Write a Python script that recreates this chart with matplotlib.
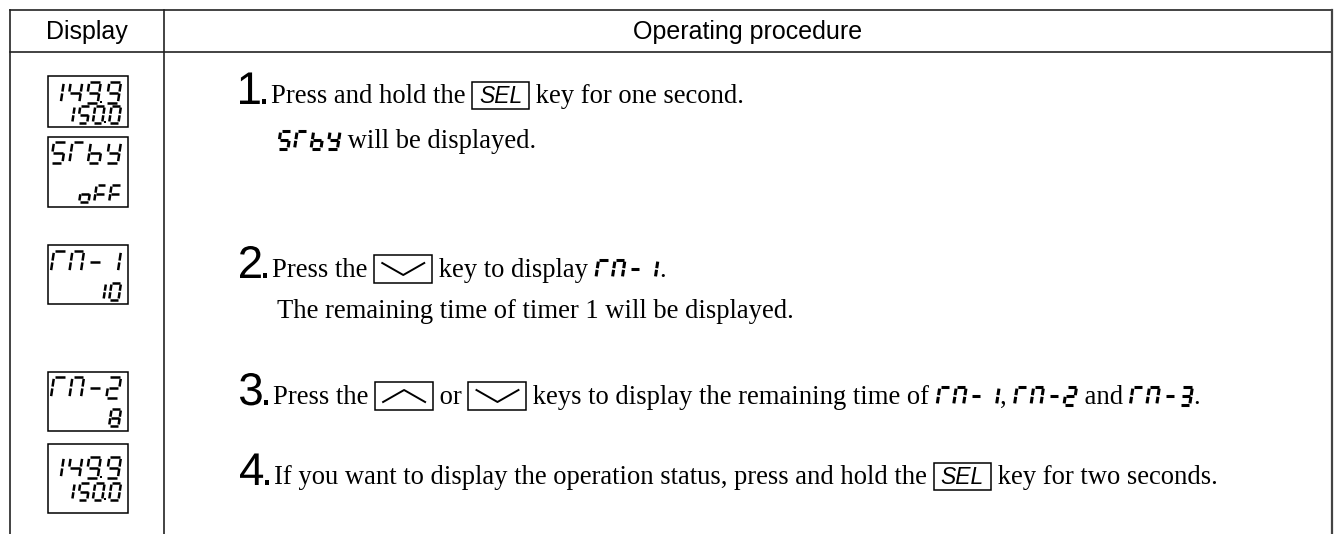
import matplotlib
matplotlib.use("Agg")
import matplotlib.pyplot as plt
from matplotlib.patches import Rectangle, PathPatch
from matplotlib.font_manager import FontProperties
from matplotlib.textpath import TextPath
from matplotlib.transforms import Affine2D

W, H, DPI = 1338, 534, 100

# ---- data ----
headers = ["Display", "Operating procedure"]
disp_top = ["149.9", "5Tby", "TM-1", "TM-2", "149.9"]
disp_bottom = ["150.0", "oFF", "10", "8", "150.0"]
step_nums = ["1", "2", "3", "4"]
step_lines = [
    [("txt", "Press and hold the "), ("key", "SEL"), ("txt", " key for one second.")],
    [("seg", "5Tby"), ("txt", " will be displayed.")],
    [("txt", "Press the "), ("key", "down"), ("txt", " key to display "), ("seg", "TM-1"), ("txt", ".")],
    [("txt", "The remaining time of timer 1 will be displayed.")],
    [("txt", "Press the "), ("key", "up"), ("txt", " or "), ("key", "down"),
     ("txt", " keys to display the remaining time of "), ("seg", "TM-1"), ("txt", ", "),
     ("seg", "TM-2"), ("txt", " and "), ("seg", "TM-3"), ("txt", ".")],
    [("txt", "If you want to display the operation status, press and hold the "), ("key", "SEL"),
     ("txt", " key for two seconds.")],
]

# seven segment patterns
SEGS = {
    "0": "abcdef", "1": "bc", "2": "abdeg", "3": "abcdg", "4": "bcfg", "5": "acdfg",
    "8": "abcdefg", "9": "abcdfg", "T": "aef", "M": "abcef", "b": "cdefg", "y": "bcdfg",
    "o": "cdeg", "F": "aefg", "-": "g",
}
ge = 0.09
SEG_XY = {
    "a": (ge, 1, 1 - ge, 1), "b": (1, 1 - ge, 1, 0.5 + ge / 2), "c": (1, 0.5 - ge / 2, 1, ge),
    "d": (ge, 0, 1 - ge, 0), "e": (0, 0.5 - ge / 2, 0, ge), "f": (0, 1 - ge, 0, 0.5 + ge / 2),
    "g": (ge, 0.5, 1 - ge, 0.5),
}

fig = plt.figure(figsize=(W / DPI, H / DPI), dpi=DPI)
ax = fig.add_axes([0, 0, 1, 1])
ax.set_xlim(0, W); ax.set_ylim(H, 0); ax.axis("off")
renderer = fig.canvas.get_renderer()

serif = FontProperties(family="Liberation Serif", size=19.2)
sans_h = FontProperties(family="Liberation Sans", size=18)
sans_num = FontProperties(family="Liberation Sans", size=33)
sans_key = FontProperties(family="Liberation Sans", size=16.5, style="italic")
PX = DPI / 72.0


def tw(s, fp):
    w1 = renderer.get_text_width_height_descent("|" + s + "|", fp, ismath=False)[0]
    w0 = renderer.get_text_width_height_descent("||", fp, ismath=False)[0]
    return w1 - w0


def glyph(x_ink, base, s, fp):
    # draw text as a path with its ink starting at x_ink; return ink right edge
    tp = TextPath((0, 0), s, prop=fp)
    ext = tp.get_extents()
    tr = Affine2D().translate(-ext.x0, 0).scale(PX, -PX).translate(x_ink, base)
    ax.add_patch(PathPatch(tr.transform_path(tp), fc="black", ec="none"))
    return x_ink + ext.width * PX


def seg_text(x, base, s, h, lw, pitch, slant=0.15, narrow1=False, draw=True):
    w = 0.55 * h
    end = x
    for i, ch in enumerate(s):
        if ch == ".":
            if draw:
                ax.plot([end + 0.5 * (pitch - w)], [base - 0.04 * h], marker="s", ms=lw * 0.9,
                        color="black", mew=0)
            x += 0.08 * h
            continue
        dx = 0.0
        if ch == "1" and narrow1 and i < len(s) - 1:
            dx = -w + 0.1 * h
        if draw:
            for sg in SEGS.get(ch, ""):
                x0, y0, x1, y1 = SEG_XY[sg]
                ax.plot([x + dx + x0 * w + slant * y0 * h, x + dx + x1 * w + slant * y1 * h],
                        [base - y0 * h, base - y1 * h], color="black", lw=lw,
                        solid_capstyle="butt")
        end = x + dx + w
        x = end + (pitch - w)
    return end + slant * h


def seg_right(xr, base, s, h, lw, pitch):
    span = seg_text(0, base, s, h, lw, pitch, narrow1=True, draw=False)
    seg_text(xr - span, base, s, h, lw, pitch, narrow1=True)


def key_box(x, base, kind):
    if kind == "SEL":
        bw, bh = 57, 27
        ax.add_patch(Rectangle((x, base - 21), bw, bh, fill=False, lw=1.1, ec="black"))
        ax.text(x + bw / 2, base - 21 + bh / 2 + 1, "SEL", fontproperties=sans_key,
                ha="center", va="center")
    else:
        bw, bh = 58, 28
        ax.add_patch(Rectangle((x, base - 22), bw, bh, fill=False, lw=1.1, ec="black"))
        cy = base - 22 + bh / 2
        d = 6 if kind == "down" else -6
        ax.plot([x + 8, x + bw / 2, x + bw - 8], [cy - d, cy + d, cy - d], color="black", lw=1.4)
    return x + bw


def layout(x, base, runs):
    for kind, val in runs:
        if kind == "txt":
            ax.text(x, base, val, fontproperties=serif, ha="left", va="baseline")
            x += tw(val, serif)
        elif kind == "key":
            x = key_box(x, base, val)
        else:
            x = seg_text(x + 1, base + 1, val, 18, 2.2, 16.5) + 1
    return x


# ---- table frame ----
lc = "#222222"
ax.plot([10, 1332], [10, 10], color=lc, lw=1.2)
ax.plot([10, 1332], [52, 52], color=lc, lw=1.2)
for xv in (10, 164):
    ax.plot([xv, xv], [10, H], color=lc, lw=1.2)
ax.plot([1332, 1332], [10, H], color="#444444", lw=1.6)
ax.text(87, 32, headers[0], fontproperties=sans_h, ha="center", va="center")
ax.text(748, 32, headers[1], fontproperties=sans_h, ha="center", va="center")

# ---- display boxes (left column) ----
box_y = [(76, 127), (137, 207), (245, 304), (372, 431), (444, 513)]
top_base = [103, 163, 272, 398, 478]
bot_base = [123, 202, 300, 426, 500]
for i in range(len(disp_top)):
    y0, y1 = box_y[i]
    ax.add_patch(Rectangle((48, y0), 80, y1 - y0, fill=False, lw=1.1, ec="black"))
    ht, hb = 21, 17
    seg_right(121, top_base[i], disp_top[i], ht, 1.8, 0.88 * ht)
    seg_right(121, bot_base[i], disp_bottom[i], hb, 1.8, 0.88 * hb)

# ---- operating procedure ----
num_base = [104, 278, 405, 485]
line_of = [[0, 1], [2, 3], [4], [5]]
sub_base = {1: 148, 3: 318}
for k, num in enumerate(step_nums):
    xr = glyph(240, num_base[k], num, sans_num)
    xr = glyph(xr + 2, num_base[k], ".", sans_num)
    xs = xr + 5
    for j, li in enumerate(line_of[k]):
        if j == 0:
            layout(xs, num_base[k] - 1, step_lines[li])
        else:
            layout(277, sub_base[li], step_lines[li])

fig.savefig("out.png", dpi=DPI)
